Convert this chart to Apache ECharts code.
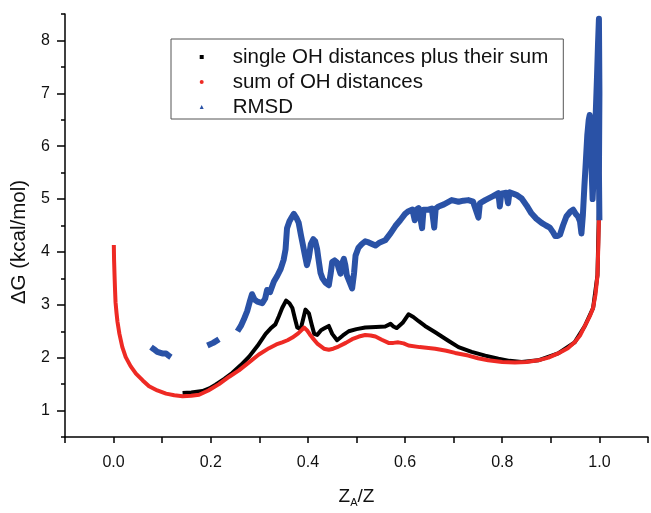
<!DOCTYPE html>
<html>
<head>
<meta charset="utf-8">
<script src="https://cdn.jsdelivr.net/npm/echarts@6/dist/echarts.min.js"></script>
<style>
  html, body { margin: 0; padding: 0; background: #fff; }
  #chart { width: 651px; height: 513px; }
</style>
</head>
<body>
<div id="chart"></div>
<script>
// Free-energy profiles along the reaction coordinate Z_A/Z
const seriesNames = ['single OH distances plus their sum', 'sum of OH distances', 'RMSD'];

const blackX = [0.142, 0.16, 0.183, 0.197, 0.21, 0.228, 0.244, 0.262, 0.279, 0.296, 0.313, 0.323, 0.333, 0.34,
  0.347, 0.355, 0.362, 0.368, 0.373, 0.378, 0.385, 0.39, 0.395, 0.402, 0.408, 0.413, 0.419, 0.427, 0.433, 0.443,
  0.45, 0.46, 0.472, 0.484, 0.5, 0.518, 0.54, 0.559, 0.57, 0.576, 0.583, 0.595, 0.607, 0.617, 0.628, 0.641, 0.662,
  0.689, 0.71, 0.737, 0.765, 0.792, 0.815, 0.84, 0.874, 0.915, 0.949, 0.97, 0.987, 0.996, 0.999, 1.0, 1.0, 1.0];
const blackY = [1.33, 1.34, 1.37, 1.42, 1.49, 1.60, 1.71, 1.86, 2.02, 2.22, 2.45, 2.55, 2.63, 2.78,
  2.94, 3.08, 3.03, 2.94, 2.75, 2.57, 2.54, 2.72, 2.91, 2.84, 2.62, 2.45, 2.43, 2.52, 2.55, 2.60,
  2.45, 2.33, 2.42, 2.50, 2.54, 2.57, 2.58, 2.59, 2.64, 2.59, 2.56, 2.66, 2.82, 2.77, 2.69, 2.60, 2.48,
  2.32, 2.20, 2.11, 2.04, 1.98, 1.94, 1.92, 1.95, 2.08, 2.29, 2.60, 2.94, 3.56, 4.8, 6.0, 7.0, 8.2];

const redX = [0.0005, 0.001, 0.002, 0.003, 0.004, 0.006, 0.008, 0.012, 0.018, 0.025, 0.035, 0.046, 0.06, 0.073,
  0.09, 0.108, 0.125, 0.142, 0.16, 0.176, 0.195, 0.217, 0.238, 0.258, 0.28, 0.299, 0.32, 0.335, 0.347, 0.358,
  0.368, 0.38, 0.388, 0.392, 0.398, 0.404, 0.409, 0.42, 0.433, 0.443, 0.452, 0.463, 0.478, 0.491, 0.505, 0.518,
  0.529, 0.539, 0.552, 0.566, 0.576, 0.586, 0.597, 0.607, 0.63, 0.662, 0.685, 0.703, 0.73, 0.75, 0.771, 0.8,
  0.826, 0.85, 0.874, 0.895, 0.915, 0.935, 0.949, 0.96, 0.97, 0.98, 0.987, 0.992, 0.996, 0.998, 0.9994, 1.0];
const redY = [4.13, 3.85, 3.55, 3.28, 3.05, 2.85, 2.68, 2.45, 2.20, 2.01, 1.84, 1.70, 1.57, 1.46,
  1.38, 1.32, 1.29, 1.27, 1.28, 1.30, 1.38, 1.50, 1.64, 1.76, 1.92, 2.06, 2.18, 2.25, 2.29, 2.33,
  2.38, 2.46, 2.53, 2.57, 2.52, 2.44, 2.38, 2.26, 2.17, 2.15, 2.17, 2.21, 2.28, 2.35, 2.40, 2.43,
  2.42, 2.40, 2.34, 2.28, 2.28, 2.29, 2.27, 2.23, 2.20, 2.17, 2.13, 2.09, 2.04, 1.99, 1.95, 1.92,
  1.91, 1.92, 1.95, 2.00, 2.08, 2.18, 2.29, 2.42, 2.60, 2.78, 2.94, 3.20, 3.56, 4.2, 4.8, 6.0];

// null marks a gap in the RMSD trace
const blueX = [0.077, 0.083, 0.090, 0.100, 0.108, 0.113, 0.118, 0.15, 0.193, 0.205, 0.217, 0.237,
  0.255, 0.262, 0.268, 0.275, 0.28, 0.285, 0.29, 0.296, 0.306, 0.312, 0.316, 0.322, 0.326, 0.33, 0.337,
  0.344, 0.35, 0.354, 0.357, 0.362, 0.367, 0.371, 0.376, 0.381, 0.386, 0.39, 0.394, 0.398, 0.402, 0.406,
  0.411, 0.415, 0.419, 0.422, 0.426, 0.43, 0.436, 0.443, 0.447, 0.45, 0.455, 0.46, 0.463, 0.467, 0.471,
  0.474, 0.477, 0.48, 0.485, 0.491, 0.495, 0.498, 0.504, 0.511, 0.518, 0.525, 0.532, 0.539, 0.548, 0.559,
  0.57, 0.58, 0.59, 0.6, 0.607, 0.615, 0.62, 0.623, 0.628, 0.635, 0.638, 0.648, 0.655, 0.66, 0.663, 0.669,
  0.68, 0.696, 0.71, 0.72, 0.73, 0.74, 0.751, 0.754, 0.765, 0.78, 0.792, 0.795, 0.798, 0.808, 0.812, 0.815,
  0.819, 0.829, 0.84, 0.85, 0.86, 0.87, 0.881, 0.89, 0.898, 0.904, 0.909, 0.914, 0.919, 0.925, 0.932, 0.94,
  0.946, 0.951, 0.956, 0.96, 0.963, 0.966, 0.969, 0.972, 0.975, 0.978, 0.98, 0.983, 0.986, 0.989, 0.992,
  0.995, 0.997, 0.999, 1.0, 0.999, 1.0];
const blueY = [2.20, 2.16, 2.11, 2.08, 2.08, 2.04, 2.01, null, 2.23, 2.28, 2.35, null,
  2.50, 2.60, 2.72, 2.88, 3.05, 3.20, 3.10, 3.06, 3.03, 3.12, 3.28, 3.24, 3.25, 3.44, 3.55,
  3.68, 3.85, 4.05, 4.45, 4.58, 4.66, 4.72, 4.65, 4.55, 4.30, 4.12, 3.93, 3.75, 3.90, 4.15,
  4.24, 4.20, 4.05, 3.85, 3.60, 3.50, 3.42, 3.37, 3.60, 3.81, 3.84, 3.80, 3.70, 3.59, 3.80,
  3.87, 3.75, 3.56, 3.45, 3.31, 3.60, 3.93, 4.08, 4.15, 4.20, 4.18, 4.15, 4.12, 4.18, 4.22,
  4.35, 4.49, 4.60, 4.72, 4.77, 4.80, 4.60, 4.80, 4.83, 4.45, 4.80, 4.80, 4.82, 4.46, 4.82, 4.86,
  4.90, 4.98, 4.95, 4.97, 4.98, 4.95, 4.65, 4.92, 4.98, 5.05, 5.11, 4.86, 5.10, 5.12, 4.92, 5.13,
  5.14, 5.08, 5.01, 4.88, 4.73, 4.63, 4.55, 4.50, 4.46, 4.38, 4.30, 4.30, 4.33, 4.50, 4.67, 4.76,
  4.80, 4.72, 4.67, 4.58, 4.35, 4.70, 5.23, 5.70, 6.20, 6.50, 6.59, 5.80, 5.00, 5.60, 6.50,
  7.30, 7.90, 8.41, 7.0, 5.5, 4.6];

const xLabelValues = [0, 0.2, 0.4, 0.6, 0.8, 1.0];
const yLabelValues = [1, 2, 3, 4, 5, 6, 7, 8];

const FONT = 'Liberation Sans, Arial, sans-serif';
const colors = { black: '#000000', red: '#ee2a24', blue: '#2a52a6' };

function pairs(xs, ys) {
  return xs.map((x, i) => [x, ys[i] === null ? '-' : ys[i]]);
}
function pickLabel(values, digits) {
  return function (v) {
    const hit = values.find(t => Math.abs(t - v) < 1e-6);
    return hit === undefined ? '' : hit.toFixed(digits);
  };
}

const chart = echarts.init(document.getElementById('chart'), null, { renderer: 'canvas' });

chart.setOption({
  animation: false,
  backgroundColor: '#ffffff',
  textStyle: { fontFamily: FONT },
  grid: { left: 65, right: 1, top: 14, bottom: 68, containLabel: false },
  legend: {
    orient: 'vertical',
    left: 171,
    top: 39,
    padding: [7.5, 15, 1.5, 28.7],
    itemWidth: 4,
    itemHeight: 4,
    itemGap: 4,
    borderColor: '#555555',
    borderWidth: 1,
    backgroundColor: '#ffffff',
    textStyle: { fontFamily: FONT, fontSize: 20.5, color: '#111111', lineHeight: 21, padding: [0, 0, 0, 24] },
    data: [
      { name: seriesNames[0], icon: 'rect' },
      { name: seriesNames[1], icon: 'circle' },
      { name: seriesNames[2], icon: 'triangle' }
    ]
  },
  xAxis: {
    type: 'value',
    min: -0.1,
    max: 1.1,
    interval: 0.1,
    name: '{z|Z}{s|A}{z|/Z}',
    nameLocation: 'middle',
    nameGap: 49,
    nameTextStyle: {
      rich: {
        z: { fontFamily: FONT, fontSize: 19, color: '#111111', lineHeight: 22 },
        s: { fontFamily: FONT, fontSize: 11, color: '#111111', lineHeight: 22, verticalAlign: 'bottom', padding: [8, 0, 0, 0] }
      }
    },
    axisLine: { onZero: false, lineStyle: { color: '#000000', width: 1.5 } },
    axisTick: { length: 6, lineStyle: { color: '#000000', width: 1.5 } },
    axisLabel: { formatter: pickLabel(xLabelValues, 1), fontFamily: FONT, fontSize: 16, color: '#111111', margin: 18 },
    splitLine: { show: false }
  },
  yAxis: [
    {
      type: 'value',
      min: 0.5,
      max: 8.5,
      interval: 0.5,
      name: 'ΔG (kcal/mol)',
      nameLocation: 'middle',
      nameGap: 31,
      nameTextStyle: { fontFamily: FONT, fontSize: 20.5, color: '#111111', padding: [0, 33, 0, 0] },
      axisLine: { onZero: false, lineStyle: { color: '#000000', width: 1.5 } },
      axisTick: { length: 8, customValues: yLabelValues, lineStyle: { color: '#000000', width: 1.5 } },
      axisLabel: { customValues: yLabelValues, formatter: pickLabel(yLabelValues, 0), fontFamily: FONT, fontSize: 16, color: '#111111', margin: 15 },
      splitLine: { show: false }
    },
    {
      type: 'value',
      min: 0.5,
      max: 8.5,
      interval: 0.5,
      position: 'left',
      axisLine: { show: false, onZero: false },
      axisTick: { length: 4, lineStyle: { color: '#000000', width: 1.5 } },
      axisLabel: { show: false },
      splitLine: { show: false }
    }
  ],
  series: [
    {
      name: seriesNames[0],
      type: 'line',
      data: pairs(blackX, blackY),
      showSymbol: false,
      itemStyle: { color: colors.black },
      lineStyle: { color: colors.black, width: 4, join: 'round' }
    },
    {
      name: seriesNames[1],
      type: 'line',
      data: pairs(redX, redY),
      showSymbol: false,
      itemStyle: { color: colors.red },
      lineStyle: { color: colors.red, width: 4, join: 'round' }
    },
    {
      name: seriesNames[2],
      type: 'line',
      data: pairs(blueX, blueY),
      showSymbol: false,
      connectNulls: false,
      itemStyle: { color: colors.blue },
      lineStyle: { color: colors.blue, width: 6, join: 'round' }
    }
  ]
});
</script>
</body>
</html>
